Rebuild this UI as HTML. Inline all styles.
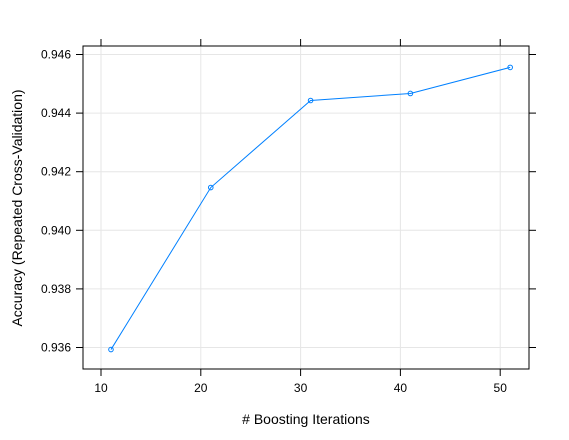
<!DOCTYPE html>
<html><head><meta charset="utf-8"><style>body{margin:0;background:#fff}svg{display:block;font-family:"Liberation Sans",sans-serif}</style></head>
<body>
<svg width="569" height="440" viewBox="0 0 569 440" xmlns="http://www.w3.org/2000/svg">
<g id="grid"></g>
<g id="series"></g>
<rect x="83" y="46" width="446" height="323" fill="none" stroke="#000" stroke-width="1"/>
<g id="axes"></g>
<text x="306" y="424" font-size="14" text-anchor="middle">&#35; Boosting Iterations</text>
<text transform="translate(22,208) rotate(-90)" font-size="14" text-anchor="middle">Accuracy (Repeated Cross-Validation)</text>
</svg>
<script>
const iterations=[11,21,31,41,51];
const accuracy=[0.93593,0.94146,0.94443,0.94467,0.94556];
const xTicks=[10,20,30,40,50];
const yTicks=[0.936,0.938,0.940,0.942,0.944,0.946];
const X=v=>101+(v-10)*9.98;
const Y=v=>347.5-(v-0.936)/0.001*29.3;
const ns="http://www.w3.org/2000/svg";
function mk(t,a,p){const e=document.createElementNS(ns,t);for(const k in a)e.setAttribute(k,a[k]);p.appendChild(e);return e;}
const g=document.getElementById('grid'),ax=document.getElementById('axes'),s=document.getElementById('series');
xTicks.forEach(t=>{const x=X(t);
 const gl=mk('line',{x1:x,x2:x,y1:46,y2:369,stroke:'#e6e6e6'},g);
 
 const a=mk('line',{x1:x,x2:x,y1:369,y2:376,stroke:'#000'},ax);
 
 const b=mk('line',{x1:x,x2:x,y1:39,y2:46,stroke:'#000'},ax);
 
 const l=mk('text',{x:x,y:392,'font-size':12,'text-anchor':'middle'},ax);l.textContent=t;
 
});
yTicks.forEach(t=>{const y=Y(t);
 const gl=mk('line',{x1:83,x2:529,y1:y,y2:y,stroke:'#e6e6e6'},g);
 
 const a=mk('line',{x1:76,x2:83,y1:y,y2:y,stroke:'#000'},ax);
 
 const b=mk('line',{x1:529,x2:536,y1:y,y2:y,stroke:'#000'},ax);
 
 const l=mk('text',{x:71,y:y+4,'font-size':12,'text-anchor':'end'},ax);l.textContent=t.toFixed(3);
 
});
const pl=mk('polyline',{points:iterations.map((v,i)=>X(v)+','+Y(accuracy[i])).join(' '),fill:'none',stroke:'#0080ff','stroke-width':1},s);

iterations.forEach((v,i)=>{const c=mk('circle',{cx:X(v),cy:Y(accuracy[i]),r:2.3,fill:'none',stroke:'#0080ff','stroke-width':1},s);
 });
</script>
</body></html>
